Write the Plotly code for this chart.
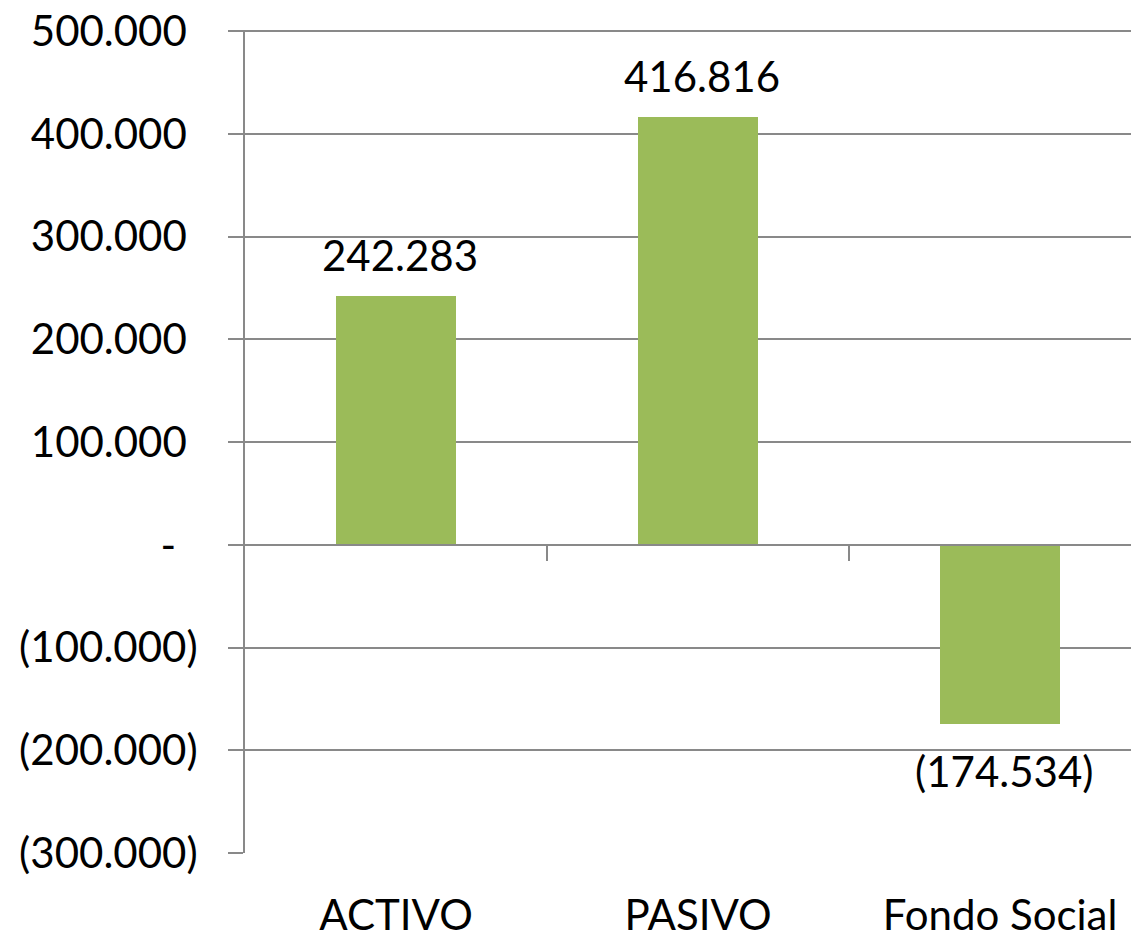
import plotly.graph_objects as go

categories = ["ACTIVO", "PASIVO", "Fondo Social"]
values = [242283, 416816, -174534]
y_ticks = [-300000, -200000, -100000, 0, 100000, 200000, 300000, 400000, 500000]


def fmt(v, pad=True):
    if v == 0:
        return "-" + "\u00a0" * 2
    s = f"{abs(v):,}".replace(",", ".")
    if v < 0:
        return f"({s})"
    return s + ("\u00a0" if pad else "")


y_ticktext = [fmt(v) for v in y_ticks]
x_pos = list(range(len(categories)))

FONT = "Lato"
GRID = "#898989"
BAR = "#9BBB59"

fig = go.Figure()
fig.add_trace(go.Bar(x=x_pos, y=values, width=0.4, marker=dict(color=BAR, line=dict(width=0)),
                     hoverinfo="skip", showlegend=False))
fig.add_trace(go.Scatter(x=[0.5], y=[0], xaxis="x2", mode="markers",
                         marker=dict(opacity=0), showlegend=False, hoverinfo="skip"))

for x, v in zip(x_pos, values):
    fig.add_annotation(x=x, y=v, text=fmt(v, pad=False), showarrow=False,
                       xshift=4, yshift=14 if v > 0 else -20,
                       yanchor="bottom" if v > 0 else "top",
                       font=dict(family=FONT, size=42, color="black"))

xr = [-0.5, 2.46]
yr = [-300000, 501300]
fig.update_layout(
    width=1131, height=926,
    margin=dict(l=237, r=0, t=22, b=81, autoexpand=False),
    paper_bgcolor="white", plot_bgcolor="white",
    font=dict(family=FONT, size=42, color="black"),
    bargap=0,
    xaxis=dict(range=xr, tickvals=x_pos, ticktext=categories, showgrid=False,
               zeroline=False, showline=False, ticks="", ticklabelstandoff=34,
               automargin=False, ticklabeloverflow="allow",
               tickfont=dict(family=FONT, size=42, color="black")),
    xaxis2=dict(range=xr, overlaying="x", anchor="free",
                position=(0 - yr[0]) / (yr[1] - yr[0]), side="bottom",
                showgrid=False, zeroline=False, showline=True, linecolor=GRID, linewidth=2,
                ticks="outside", ticklen=15, tickwidth=2, tickcolor=GRID,
                tickvals=[0.5, 1.5], showticklabels=False, automargin=False),
    yaxis=dict(range=yr, tickvals=y_ticks, ticktext=y_ticktext,
               showgrid=True, gridcolor=GRID, gridwidth=2, zeroline=False,
               showline=True, linecolor=GRID, linewidth=2,
               ticks="outside", ticklen=15, tickwidth=2, tickcolor=GRID,
               ticklabelstandoff=22, automargin=False, ticklabeloverflow="allow",
               tickfont=dict(family=FONT, size=42, color="black")),
)

fig.write_html("out.html")
